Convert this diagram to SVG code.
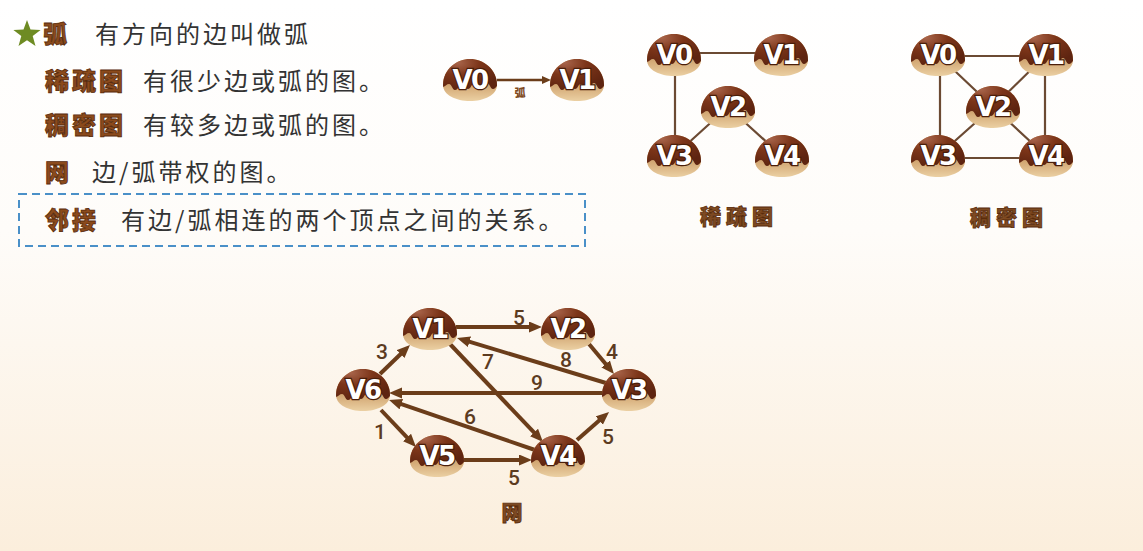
<svg xmlns="http://www.w3.org/2000/svg" xmlns:xlink="http://www.w3.org/1999/xlink" width="1143" height="551" viewBox="0 0 1143 551">
<style>
.body{font-family:"Noto Sans CJK SC","Noto Sans",sans-serif;font-size:24px;fill:#333;letter-spacing:3px}
.kw{font-family:"Noto Sans CJK SC","Noto Sans",sans-serif;font-size:24px;font-weight:900;fill:#8b4a1c;stroke:#5a2c0c;stroke-width:0.8;letter-spacing:3px}
.cap{font-family:"Noto Sans CJK SC","Noto Sans",sans-serif;font-size:21px;font-weight:900;fill:#7e4a22;stroke:#5a2c0c;stroke-width:0.8;letter-spacing:5px;text-anchor:middle}
.nt{font-family:"DejaVu Sans",sans-serif;font-size:26px;font-weight:bold;fill:#fff;stroke:#4a1e0a;stroke-width:2.5;paint-order:stroke;text-anchor:middle;letter-spacing:-1.5px}
.w{font-family:Roboto,"Liberation Sans",sans-serif;font-size:21px;font-weight:500;fill:#5c3b1f;text-anchor:middle}
.thin{stroke:#6b4a33;stroke-width:2.2;fill:none}
.arr{stroke:#6b3d1a;stroke-width:4;fill:none;marker-end:url(#ah)}
</style>
<defs>
<linearGradient id="bg" x1="0" y1="0" x2="0" y2="1">
<stop offset="0" stop-color="#ffffff"/>
<stop offset="0.42" stop-color="#fefcf9"/>
<stop offset="1" stop-color="#fbeedc"/>
</linearGradient>
<linearGradient id="tan" x1="0" y1="0" x2="0" y2="1">
<stop offset="0.5" stop-color="#c99862"/>
<stop offset="1" stop-color="#ebd0a3"/>
</linearGradient>
<radialGradient id="choc" cx="0.3" cy="0.2" r="0.8">
<stop offset="0" stop-color="#a8644a"/>
<stop offset="0.45" stop-color="#7c3519"/>
<stop offset="1" stop-color="#5e2410"/>
</radialGradient>
<clipPath id="nclip">
<path d="M-27,5 C-27,-11 -13,-21 0,-21 C13,-21 27,-11 27,5 C27,15 14,21 0,21 C-14,21 -27,15 -27,5 Z"/>
</clipPath>
<g id="nd">
<path d="M-27,5 C-27,-11 -13,-21 0,-21 C13,-21 27,-11 27,5 C27,15 14,21 0,21 C-14,21 -27,15 -27,5 Z" fill="url(#tan)"/>
<path clip-path="url(#nclip)" fill="url(#choc)" d="M-30,-24 H30 V4 C27,4 26,9 23,9 C20,9 20,3 17,3 C14,3 14,10 10,10 C7,10 7,4 4,4 C1,4 1,9 -2,9 C-5,9 -5,3 -8,3 C-11,3 -11,10 -15,10 C-18,10 -18,4 -21,4 C-24,4 -25,8 -30,7 Z"/>
</g>
<marker id="ah" markerUnits="userSpaceOnUse" markerWidth="14" markerHeight="12" refX="3" refY="5.5" orient="auto">
<path d="M0,0 L13,5.5 L0,11 Z" fill="#6b3d1a"/>
</marker>
<marker id="ahs" markerUnits="userSpaceOnUse" markerWidth="10" markerHeight="9" refX="2" refY="4" orient="auto">
<path d="M0,0 L9,4 L0,8 Z" fill="#6b3d1a"/>
</marker>
</defs>
<rect x="0" y="0" width="1143" height="551" fill="url(#bg)"/>

<g id="intro">
<path d="M27,20 L30.5,29.5 L40.6,29.9 L32.7,36.1 L35.5,45.9 L27,40.2 L18.5,45.9 L21.3,36.1 L13.4,29.9 L23.5,29.5 Z" fill="#6e8b23"/>
<text class="kw" x="43" y="43">弧</text>
<text class="body" x="95" y="43">有方向的边叫做弧</text>
<text class="kw" x="45" y="90">稀疏图</text>
<text class="body" x="143" y="90">有很少边或弧的图。</text>
<text class="kw" x="45" y="134">稠密图</text>
<text class="body" x="143" y="134">有较多边或弧的图。</text>
<text class="kw" x="45" y="181">网</text>
<text class="body" x="92" y="181">边/弧带权的图。</text>
<rect x="19" y="194" width="566" height="52" fill="none" stroke="#4a90c8" stroke-width="2" stroke-dasharray="8 5"/>
<text class="kw" x="45" y="229">邻接</text>
<text class="body" x="121" y="229">有边/弧相连的两个顶点之间的关系。</text>
</g>

<g id="connectors">
<line x1="497" y1="80" x2="544" y2="80" stroke="#6b3d1a" stroke-width="2.5" marker-end="url(#ahs)"/>
<path class="thin" d="M674,53 H781 M675,55 V156 M728,107 L674,156 M728,107 L782,156"/>
<path class="thin" d="M938,56 H1046 M940,55 V156 M1045,55 V156 M938,158 H1046 M938,55 L993,107 L1046,55 M938,156 L993,107 L1046,156"/>
<line class="arr" x1="456" y1="327" x2="532" y2="327"/>
<line class="arr" x1="589" y1="344" x2="607.6" y2="366.3"/>
<line class="arr" x1="606" y1="383" x2="466.6" y2="340.9"/>
<line class="arr" x1="449" y1="343" x2="536.1" y2="434.7"/>
<line class="arr" x1="604" y1="393" x2="399" y2="393"/>
<line class="arr" x1="535" y1="450" x2="398.5" y2="403.2"/>
<line class="arr" x1="380" y1="374" x2="402.8" y2="352"/>
<line class="arr" x1="381" y1="410" x2="409.1" y2="439.7"/>
<line class="arr" x1="463" y1="460" x2="522" y2="460"/>
<line class="arr" x1="577" y1="440" x2="601.5" y2="418.6"/>
</g>

<g id="edge-labels">
<text x="520" y="97" font-family="Noto Sans CJK SC,sans-serif" font-size="11" font-weight="900" fill="#7e4a22" text-anchor="middle">弧</text>
<text class="w" x="519" y="325">5</text>
<text class="w" x="612" y="359">4</text>
<text class="w" x="566" y="367">8</text>
<text class="w" x="488" y="369">7</text>
<text class="w" x="537" y="390">9</text>
<text class="w" x="470" y="424">6</text>
<text class="w" x="382" y="359">3</text>
<text class="w" x="380" y="439">1</text>
<text class="w" x="514" y="485">5</text>
<text class="w" x="608" y="444">5</text>
</g>

<g id="arc-v0"><use href="#nd" x="470" y="80"/><text class="nt" x="470" y="89">V0</text></g>
<g id="arc-v1"><use href="#nd" x="577" y="80"/><text class="nt" x="577" y="89">V1</text></g>

<g id="sparse-v0"><use href="#nd" x="674" y="55"/><text class="nt" x="674" y="64">V0</text></g>
<g id="sparse-v1"><use href="#nd" x="781" y="55"/><text class="nt" x="781" y="64">V1</text></g>
<g id="sparse-v2"><use href="#nd" x="728" y="107"/><text class="nt" x="728" y="116">V2</text></g>
<g id="sparse-v3"><use href="#nd" x="674" y="156"/><text class="nt" x="674" y="165">V3</text></g>
<g id="sparse-v4"><use href="#nd" x="782" y="156"/><text class="nt" x="782" y="165">V4</text></g>
<text class="cap" x="739" y="224">稀疏图</text>

<g id="dense-v0"><use href="#nd" x="938" y="55"/><text class="nt" x="938" y="64">V0</text></g>
<g id="dense-v1"><use href="#nd" x="1046" y="55"/><text class="nt" x="1046" y="64">V1</text></g>
<g id="dense-v2"><use href="#nd" x="993" y="107"/><text class="nt" x="993" y="116">V2</text></g>
<g id="dense-v3"><use href="#nd" x="938" y="156"/><text class="nt" x="938" y="165">V3</text></g>
<g id="dense-v4"><use href="#nd" x="1046" y="156"/><text class="nt" x="1046" y="165">V4</text></g>
<text class="cap" x="1009" y="225">稠密图</text>

<g id="net-v1"><use href="#nd" x="430" y="329"/><text class="nt" x="430" y="338">V1</text></g>
<g id="net-v2"><use href="#nd" x="568" y="329"/><text class="nt" x="568" y="338">V2</text></g>
<g id="net-v3"><use href="#nd" x="629" y="390"/><text class="nt" x="629" y="399">V3</text></g>
<g id="net-v4"><use href="#nd" x="558" y="456"/><text class="nt" x="558" y="465">V4</text></g>
<g id="net-v5"><use href="#nd" x="437" y="456"/><text class="nt" x="437" y="465">V5</text></g>
<g id="net-v6"><use href="#nd" x="363" y="390"/><text class="nt" x="363" y="399">V6</text></g>
<text class="cap" x="512" y="520" style="letter-spacing:0">网</text>
</svg>
